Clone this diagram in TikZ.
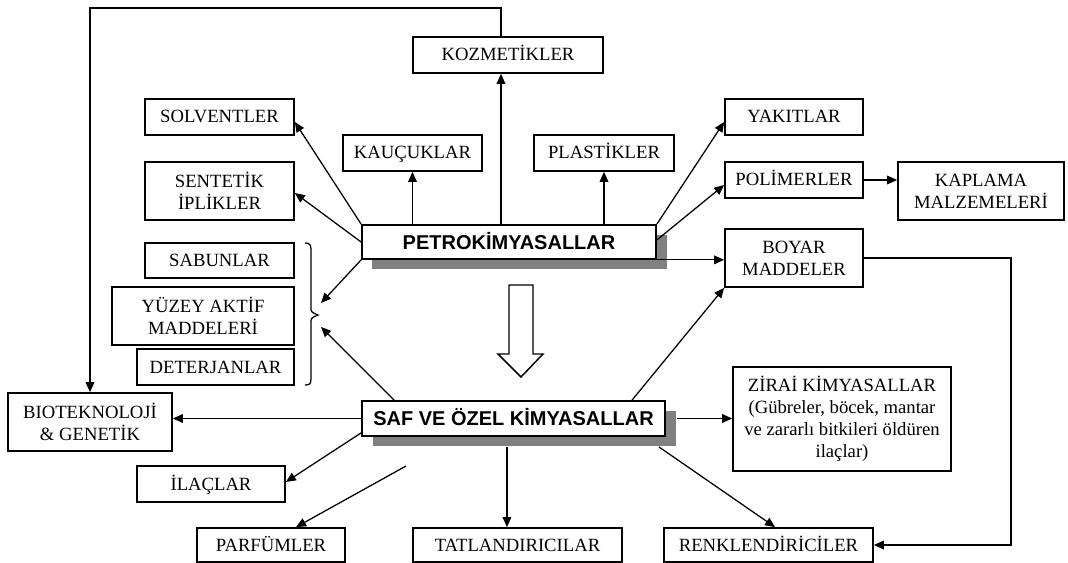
\documentclass[tikz,border=0pt]{standalone}
\usepackage{fontspec}
\setmainfont{Liberation Serif}
\newfontfamily\hsans{Liberation Sans}
\usetikzlibrary{arrows.meta}
\begin{document}
\begin{tikzpicture}[x=0.75pt,y=-0.75pt,
  box/.style={draw,line width=1.3pt,inner sep=0pt,align=center,fill=white,
    font=\fontsize{14}{16.5}\selectfont},
  one/.style={box,text height=12pt,text depth=3pt},
  mainbox/.style={draw,line width=1.3pt,inner sep=0pt,align=center,fill=white,
    text height=11.7pt,text depth=1pt,
    font=\hsans\bfseries\fontsize{15}{17}\selectfont},
  shadowfill/.style={fill=black!50,draw=none},
  conn/.style={line width=0.95pt,-{Triangle[length=7.5pt,width=6.5pt]}},
  line/.style={line width=0.95pt}]
\useasboundingbox (0,0) rectangle (1068,563);
% shadows
\fill[shadowfill] (372,235) rectangle (667,269);
\fill[shadowfill] (373,411) rectangle (676,446);
% boxes
\node[one,minimum width=142.5pt,minimum height=27pt] (koz) at (508,55) {KOZMETİKLER};
\node[one,minimum width=111.75pt,minimum height=27pt] (solv) at (219.5,117) {SOLVENTLER};
\node[one,minimum width=104.25pt,minimum height=27pt] (kauc) at (412.5,153) {KAUÇUKLAR};
\node[one,minimum width=105pt,minimum height=27pt] (plas) at (604,153) {PLASTİKLER};
\node[one,minimum width=103.5pt,minimum height=27pt] (yak) at (794,117) {YAKITLAR};
\node[box,minimum width=111.75pt,minimum height=43.5pt] (sent) at (219.5,191) {SENTETİK\\İPLİKLER};
\node[one,minimum width=103.5pt,minimum height=27pt] (poli) at (794,180) {POLİMERLER};
\node[box,minimum width=124.5pt,minimum height=43.5pt] (kapl) at (981,191) {KAPLAMA\\MALZEMELERİ};
\node[mainbox,minimum width=220.5pt,minimum height=25.5pt] (petro) at (509,242) {PETROKİMYASALLAR};
\node[box,minimum width=103.5pt,minimum height=43.5pt] (boyar) at (794,258) {BOYAR\\MADDELER};
\node[one,minimum width=111.75pt,minimum height=26.25pt] (sab) at (219.5,260.5) {SABUNLAR};
\node[box,minimum width=136.5pt,minimum height=43.5pt] (yuz) at (203,316) {YÜZEY AKTİF\\MADDELERİ};
\node[one,minimum width=117.75pt,minimum height=27pt] (det) at (215.5,367) {DETERJANLAR};
\node[mainbox,minimum width=227.25pt,minimum height=26.25pt] (saf) at (513.5,418.5) {SAF VE ÖZEL KİMYASALLAR};
\node[box,minimum width=123pt,minimum height=43.5pt] (bio) at (90,422) {BIOTEKNOLOJİ\\\& GENETİK};
\node[box,minimum width=163.5pt,minimum height=78pt] (zir) at (842,419) {ZİRAİ KİMYASALLAR\\(Gübreler, böcek, mantar\\ve zararlı bitkileri öldüren\\ilaçlar)};
\node[one,minimum width=111pt,minimum height=27pt] (ilac) at (211,484) {İLAÇLAR};
\node[one,minimum width=111pt,minimum height=25.5pt] (parf) at (271,545) {PARFÜMLER};
\node[one,minimum width=156.75pt,minimum height=25.5pt] (tatl) at (517.5,545) {TATLANDIRICILAR};
\node[one,minimum width=156.75pt,minimum height=25.5pt] (renk) at (768.5,545) {RENKLENDİRİCİLER};
% brace
\draw[line] (305,243) .. controls (310,243) and (311,245) .. (311,250) -- (311,307)
  .. controls (311,312) .. (318,315) .. controls (311,318) .. (311,323) -- (311,378)
  .. controls (311,384) and (310,385) .. (305,385);
\coordinate (bt1) at (321,303);
\coordinate (bt2) at (321,327);
\coordinate (pf) at (406,466);
% hollow arrow
\draw[line width=1.1pt,fill=white] (509,285) -- (533,285) -- (533,354) -- (543,354) -- (521,377)
  -- (498,354) -- (509,354) -- cycle;
% connectors from PETROKIMYASALLAR
\coordinate (kx) at ([xshift=-5.25pt]koz.south);
\coordinate (kxn) at ([xshift=-5.25pt]koz.north);
\draw[conn] (kx |- petro.north) -- (kx);
\draw[conn] (kauc.south |- petro.north) -- (kauc.south);
\draw[conn] (plas.south |- petro.north) -- (plas.south);
\draw[conn] (petro.north west) -- ([yshift=-3.75pt]solv.east);
\draw[conn] (petro.west) -- ([yshift=-1.5pt]sent.east);
\draw[conn] (petro.south west) -- (bt1);
\draw[conn] (petro.north east) -- ([yshift=-3.75pt]yak.west);
\draw[conn] ([yshift=1.5pt]petro.east) -- ([yshift=-3.75pt]poli.west);
\draw[conn] (poli.east) -- (poli.east -| kapl.west);
\draw[conn] (petro.south east) -- (petro.south east -| boyar.west);
\draw[conn] (boyar.east) -- ++(147,0) |- (renk.east);
\draw[conn] (kxn) -- ++(0,-28) -| (bio.north);
% connectors from SAF VE OZEL
\draw[conn] ([xshift=24.75pt]saf.north west) -- (bt2);
\draw[conn] ([xshift=88.9pt]saf.north) -- (boyar.south west);
\draw[conn] ([xshift=8.25pt]saf.east) -- (saf.east -| zir.west);
\draw[conn] ([xshift=-5.25pt,yshift=-7.5pt]saf.south east) -- ([xshift=4.9pt]renk.north);
\coordinate (tx) at ([xshift=-4.9pt]saf.south);
\draw[conn] ([yshift=-7.5pt]tx) -- (tx |- tatl.north);
\draw[conn] (saf.west) -- (saf.west -| bio.east);
\draw[conn] ([yshift=3pt]saf.south west) -- ([yshift=1.5pt]ilac.east);
\draw[conn] (pf) -- ([xshift=18.75pt]parf.north);
\end{tikzpicture}
\end{document}
